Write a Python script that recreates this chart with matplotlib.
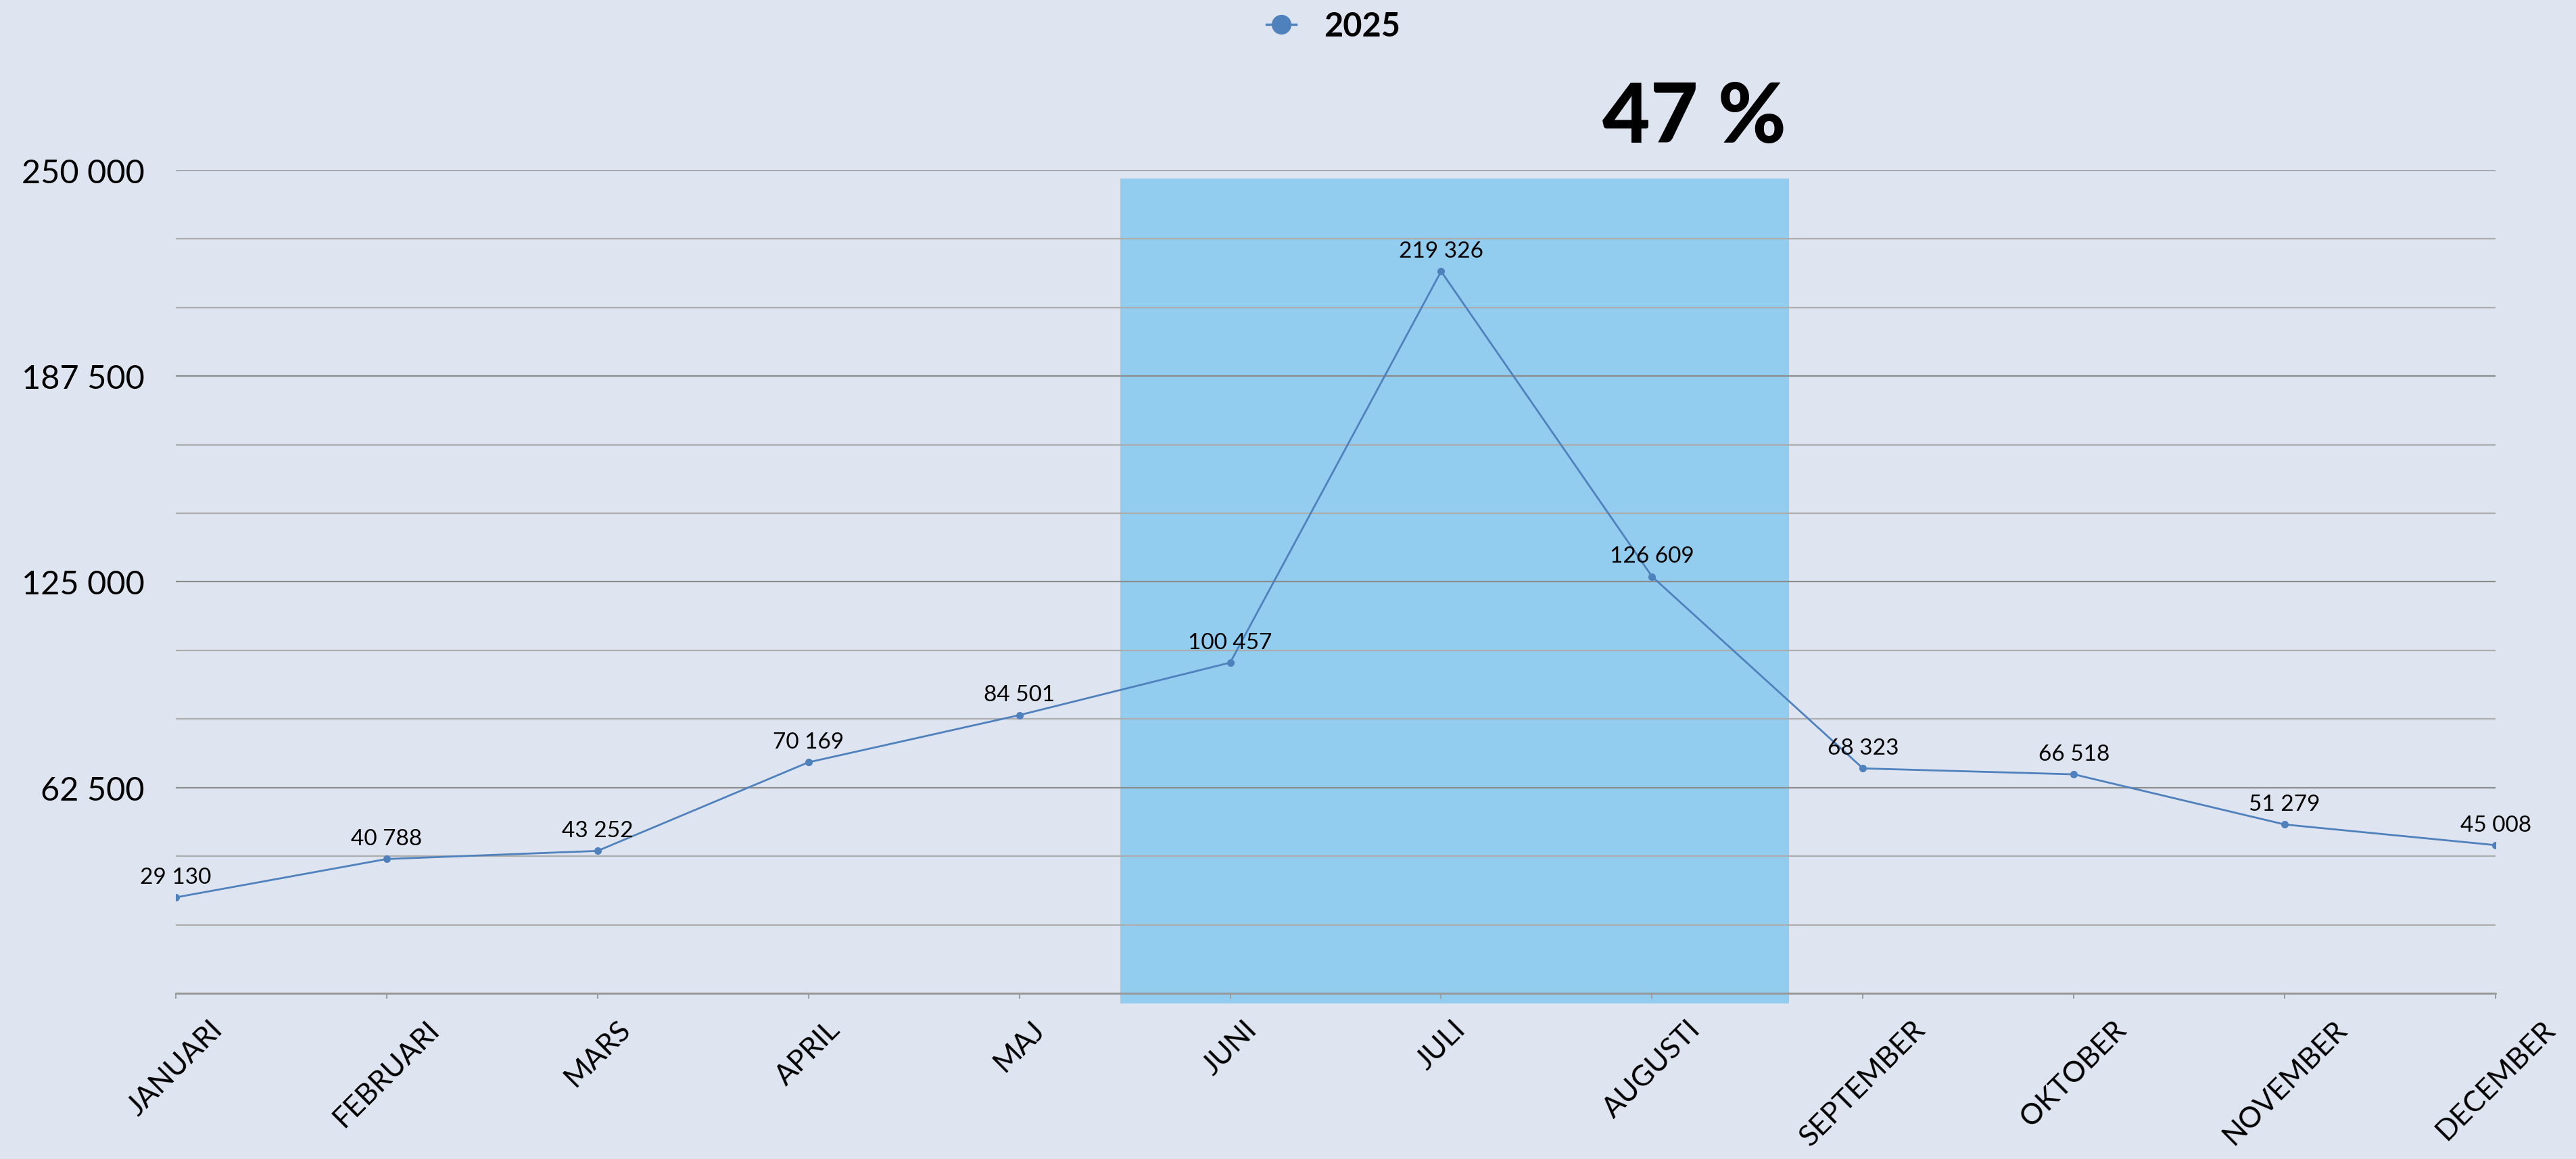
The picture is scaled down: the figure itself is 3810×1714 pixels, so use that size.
import numpy as np
import matplotlib
matplotlib.use("Agg")
import matplotlib.pyplot as plt
from matplotlib.patches import Rectangle
from matplotlib.lines import Line2D
from matplotlib.ticker import MultipleLocator, FuncFormatter

plt.rcParams["font.family"] = ["Lato", "DejaVu Sans"]

months = ["JANUARI", "FEBRUARI", "MARS", "APRIL", "MAJ", "JUNI", "JULI",
          "AUGUSTI", "SEPTEMBER", "OKTOBER", "NOVEMBER", "DECEMBER"]
values_2025 = [29130, 40788, 43252, 70169, 84501, 100457, 219326,
               126609, 68323, 66518, 51279, 45008]
series_name = "2025"
highlight_text = "47 %"
highlight_span = (4.48, 7.65)  # month index range covered by the shaded box

bg = "#DFE5F0"
line_color = "#4F81BD"
box_color = "#92CDF0"


def fmt(v, pos=None):
    return "{:,}".format(int(v)).replace(",", " ")


fig = plt.figure(figsize=(38.1, 17.15), dpi=100, facecolor=bg)
ax = fig.add_axes([0.0682, 0.1429, 0.9006, 0.7096], facecolor=bg)

x = np.arange(len(months))
ax.plot(x, values_2025, "-o", color=line_color, lw=2, markersize=7, zorder=3)

for xi, v in zip(x, values_2025):
    ax.annotate(fmt(v), (xi, v), xytext=(0, 11), textcoords="offset points",
                ha="center", va="bottom", fontsize=24, color="black", zorder=4)

# shaded summer box
ax.add_patch(Rectangle((highlight_span[0], -3000), highlight_span[1] - highlight_span[0],
                       250500, facecolor=box_color, edgecolor="none",
                       zorder=1, clip_on=False))
ax.text(7.2, 1.018, highlight_text,
        transform=ax.get_xaxis_transform(), ha="center", va="bottom",
        fontsize=88, fontweight="black", color="black")

ax.set_xlim(0, 11)
ax.set_ylim(0, 250000)
ax.set_axisbelow("line")

ax.yaxis.set_major_locator(MultipleLocator(62500))
ax.yaxis.set_minor_locator(MultipleLocator(250000 / 12))
ax.yaxis.set_major_formatter(FuncFormatter(lambda v, p: "" if v == 0 else fmt(v)))
ax.grid(axis="y", which="major", color="#8C8C8C", lw=1.6)
ax.grid(axis="y", which="minor", color="#ADADAD", lw=1.6)
ax.tick_params(axis="y", which="both", length=0, pad=33, labelsize=35)

ax.set_xticks(x)
ax.set_xticklabels(months, rotation=45, ha="center", va="top")
ax.tick_params(axis="x", length=6, width=1.5, color="#A0A0A0", pad=18, labelsize=31)

for s in ["top", "left", "right"]:
    ax.spines[s].set_visible(False)
ax.spines["bottom"].set_color("#9A9A9A")
ax.spines["bottom"].set_linewidth(2)

handle = Line2D([], [], color=line_color, lw=2.5, marker="o", markersize=20)
fig.legend([handle], [series_name], loc="center", bbox_to_anchor=(0.5176, 0.977),
           frameon=False, handlelength=0.9, handletextpad=0.85,
           prop={"size": 35, "weight": "bold"})

fig.savefig("out.png", dpi=100, facecolor=bg)
